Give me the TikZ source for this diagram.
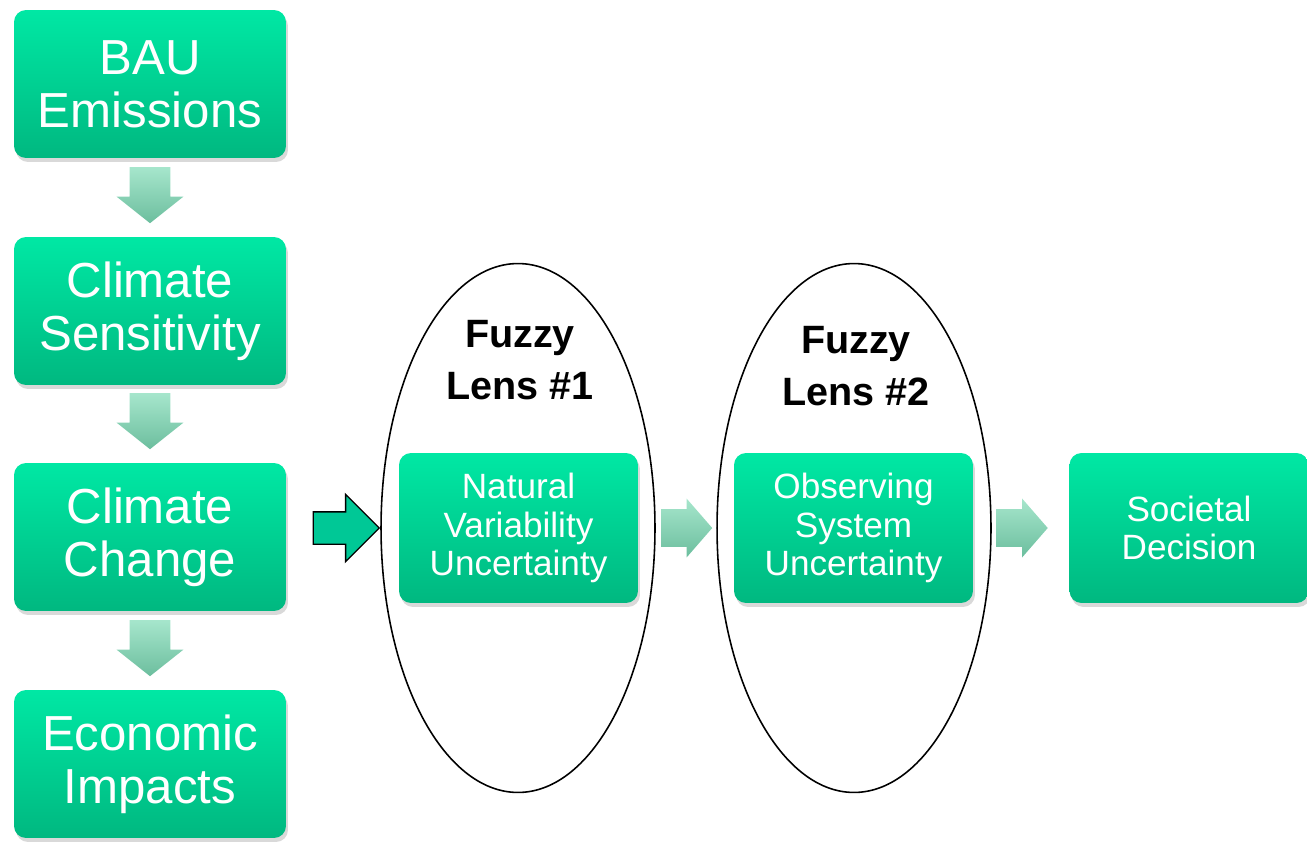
\documentclass[tikz,border=0pt]{standalone}
\usepackage{fontspec}
\setmainfont{Liberation Sans}
\usetikzlibrary{shapes.geometric,shapes.arrows,shadows,calc}

\definecolor{boxtop}{RGB}{0,232,164}
\definecolor{boxbot}{RGB}{0,184,128}
\definecolor{fadetop}{RGB}{166,230,204}
\definecolor{fadebot}{RGB}{108,190,158}
\definecolor{arrowfill}{RGB}{0,200,150}

\tikzset{
  greenbox/.style={rectangle, rounded corners=0.24cm, inner sep=0pt,
    top color=boxtop, bottom color=boxbot, text=white, align=center,
    drop shadow={opacity=0.3, shadow xshift=0.04cm, shadow yshift=-0.08cm}},
  stagebox/.style={greenbox, minimum width=5.44cm, minimum height=2.96cm,
    font=\fontsize{28}{30}\selectfont},
  lensbox/.style={greenbox, minimum width=4.78cm, minimum height=3cm,
    font=\fontsize{20}{22}\selectfont},
  lens/.style={ellipse, draw, line width=0.9pt, minimum width=5.48cm,
    minimum height=10.58cm},
  lenslabel/.style={align=center, font=\bfseries\fontsize{22.5}{30}\selectfont},
  downarr/.style={single arrow, shape border rotate=270, inner xsep=0.4cm,
    inner ysep=0pt, minimum height=1.12cm, single arrow head extend=0.26cm,
    single arrow tip angle=103, top color=fadetop, bottom color=fadebot},
  rightarr/.style={single arrow, inner xsep=0pt, inner ysep=0.37cm,
    minimum height=1.02cm, single arrow head extend=0.21cm,
    single arrow tip angle=98, top color=fadetop, bottom color=fadebot},
  inarr/.style={single arrow, draw, line width=0.8pt, fill=arrowfill,
    inner xsep=0pt, inner ysep=0.31cm, minimum height=1.32cm,
    single arrow head extend=0.35cm, single arrow tip angle=90}
}

\begin{document}
\begin{tikzpicture}[x=0.02cm, y=-0.02cm]
  \useasboundingbox (0,0) rectangle (1307,844);

  % chain on the left
  \node[stagebox] (bau)  at (150,84)  {BAU\\Emissions};
  \node[stagebox] (sens) at (150,311) {Climate\\Sensitivity};
  \node[stagebox] (chg)  at (150,537) {Climate\\Change};
  \node[stagebox] (econ) at (150,764) {Economic\\Impacts};

  \node[downarr, anchor=tip] (a1) at ($(sens.north)+(0,-13)$) {};
  \node[downarr, anchor=tip] (a2) at ($(chg.north)+(0,-13)$) {};
  \node[downarr, anchor=tip] (a3) at ($(econ.north)+(0,-13)$) {};

  % the two lenses
  \node[lens] (lens1) at (518,528) {};
  \node[lens] (lens2) at (854,528) {};
  \node[lenslabel] (fuzzy1) at (520,360) {Fuzzy\\Lens \#1};
  \node[lenslabel] (fuzzy2) at (856,366) {Fuzzy\\Lens \#2};

  \node[lensbox] (nat) at (518.5,528)  {Natural\\Variability\\Uncertainty};
  \node[lensbox] (obs) at (853.5,528)  {Observing\\System\\Uncertainty};
  \node[lensbox] (soc) at (1189,528)   {Societal\\Decision};

  % arrows between them
  \node[inarr, anchor=tip] (in1) at (lens1.west) {};
  \node[rightarr, anchor=tip] (r1) at ($(obs.west)+(-21,0)$) {};
  \node[rightarr, anchor=tip] (r2) at ($(soc.west)+(-21,0)$) {};
\end{tikzpicture}
\end{document}
